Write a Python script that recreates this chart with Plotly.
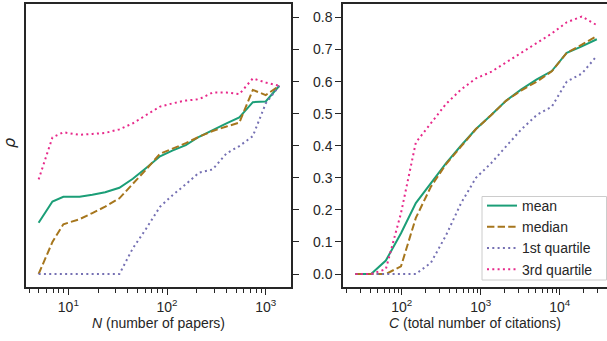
import plotly.graph_objects as go

# ---- data ----
N_vals = [5, 6.9, 8.9, 13, 17.5, 23.6, 32.9, 45, 61, 85, 113, 155, 211, 290, 400, 540, 740, 1000, 1374]
N_mean = [0.160, 0.226, 0.241, 0.241, 0.247, 0.255, 0.269, 0.297, 0.330, 0.367, 0.385, 0.402, 0.428, 0.450, 0.470, 0.488, 0.536, 0.538, 0.587]
N_median = [0.0, 0.100, 0.155, 0.171, 0.190, 0.210, 0.236, 0.280, 0.325, 0.375, 0.390, 0.408, 0.428, 0.446, 0.460, 0.472, 0.574, 0.558, 0.587]
N_q1 = [0.0, 0.0, 0.0, 0.0, 0.0, 0.0, 0.0, 0.080, 0.140, 0.210, 0.245, 0.280, 0.316, 0.326, 0.376, 0.399, 0.430, 0.532, 0.587]
N_q3 = [0.295, 0.426, 0.442, 0.434, 0.437, 0.440, 0.451, 0.470, 0.495, 0.522, 0.532, 0.541, 0.545, 0.566, 0.566, 0.561, 0.610, 0.597, 0.587]

C_vals = [26, 41, 63, 98, 151, 234, 363, 562, 871, 1349, 2089, 3236, 5129, 7943, 12303, 19055, 29512]
C_mean = [0.0, 0.0, 0.042, 0.127, 0.221, 0.283, 0.345, 0.400, 0.452, 0.495, 0.540, 0.575, 0.607, 0.633, 0.690, 0.710, 0.732]
C_median = [0.0, 0.0, 0.0, 0.024, 0.175, 0.272, 0.342, 0.397, 0.452, 0.495, 0.540, 0.572, 0.600, 0.632, 0.690, 0.715, 0.742]
C_q1 = [0.0, 0.0, 0.0, 0.0, 0.0, 0.035, 0.120, 0.220, 0.300, 0.345, 0.397, 0.450, 0.496, 0.522, 0.600, 0.625, 0.680]
C_q3 = [0.0, 0.0, 0.015, 0.190, 0.410, 0.470, 0.530, 0.575, 0.610, 0.630, 0.660, 0.690, 0.720, 0.750, 0.785, 0.803, 0.776]

series_names = ["mean", "median", "1st quartile", "3rd quartile"]
y_ticks = [0.0, 0.1, 0.2, 0.3, 0.4, 0.5, 0.6, 0.7, 0.8]
y_ticktext = ["0.0", "0.1", "0.2", "0.3", "0.4", "0.5", "0.6", "0.7", "0.8"]
N_major = [10, 100, 1000]
N_major_text = ["10<sup>1</sup>", "10<sup>2</sup>", "10<sup>3</sup>"]
N_minor = [4, 5, 6, 7, 8, 9, 20, 30, 40, 50, 60, 70, 80, 90, 200, 300, 400, 500, 600, 700, 800, 900]
C_major = [100, 1000, 10000]
C_major_text = ["10<sup>2</sup>", "10<sup>3</sup>", "10<sup>4</sup>"]
C_minor = [20, 30, 40, 50, 60, 70, 80, 90, 200, 300, 400, 500, 600, 700, 800, 900,
           2000, 3000, 4000, 5000, 6000, 7000, 8000, 9000, 20000, 30000]

# ---- styles ----
colors = ["#1b9e77", "#a6761d", "#7570b3", "#e7298a"]
dashes = ["solid", "7.4px,3.2px", "2px,3.3px", "2px,3.3px"]
FONT = "Liberation Sans, Arial, sans-serif"
AX = "#262626"

fig = go.Figure()
left = [N_mean, N_median, N_q1, N_q3]
right = [C_mean, C_median, C_q1, C_q3]
for i, name in enumerate(series_names):
    fig.add_trace(go.Scatter(x=N_vals, y=left[i], mode="lines", name=name,
                             line=dict(color=colors[i], width=2, dash=dashes[i]),
                             xaxis="x", yaxis="y", showlegend=False))
for i, name in enumerate(series_names):
    fig.add_trace(go.Scatter(x=C_vals, y=right[i], mode="lines", name=name,
                             line=dict(color=colors[i], width=2, dash=dashes[i]),
                             xaxis="x2", yaxis="y2", showlegend=True))

W, H = 607, 341
t, b = 4, 54
PH = H - t - b
yr = [-0.0405, 0.842]


def py(v):
    return (H - b - v) / PH


common_x = dict(type="log", showgrid=False, zeroline=False, showline=True, linecolor=AX, linewidth=1.5,
                ticks="outside", ticklen=6, tickwidth=1.2, tickcolor=AX,
                tickfont=dict(family=FONT, size=14, color=AX), mirror=True)

fig.update_layout(
    width=W, height=H,
    margin=dict(l=0, r=0, t=t, b=b, autoexpand=False),
    paper_bgcolor="white", plot_bgcolor="white",
    font=dict(family=FONT, size=14, color=AX),
    xaxis=dict(domain=[26 / W, 291 / W], range=[0.571, 3.256], anchor="y",
               tickmode="array", tickvals=N_major, ticktext=N_major_text,
               minor=dict(tickmode="array", tickvals=N_minor, ticks="outside", ticklen=4,
                          tickwidth=1, tickcolor=AX, showgrid=False),
               title=dict(text="<i>N</i> (number of papers)", font=dict(size=14, family=FONT, color=AX), standoff=2),
               **common_x),
    xaxis2=dict(domain=[343 / W, 1.0], range=[1.257, 4.599], anchor="y2",
                tickmode="array", tickvals=C_major, ticktext=C_major_text,
                minor=dict(tickmode="array", tickvals=C_minor, ticks="outside", ticklen=4,
                           tickwidth=1, tickcolor=AX, showgrid=False),
                title=dict(text="<i>C</i> (total number of citations)", font=dict(size=14, family=FONT, color=AX), standoff=2),
                **common_x),
    yaxis=dict(range=yr, anchor="x", side="right", showgrid=False, zeroline=False, showline=True,
               linecolor=AX, linewidth=1.5, mirror=True, ticks="outside", ticklen=6, tickwidth=1.2,
               tickcolor=AX, tickmode="array", tickvals=y_ticks, showticklabels=False),
    yaxis2=dict(range=yr, anchor="x2", side="left", showgrid=False, zeroline=False, showline=True,
                linecolor=AX, linewidth=1.5, mirror=False, ticks="outside", ticklen=6, tickwidth=1.2,
                tickcolor=AX, tickmode="array", tickvals=y_ticks, ticktext=y_ticktext,
                tickfont=dict(family=FONT, size=14, color=AX)),
    legend=dict(x=482 / W, xanchor="left", y=py(285), yanchor="bottom",
                bgcolor="rgba(0,0,0,0)", borderwidth=0,
                font=dict(family=FONT, size=14, color=AX), tracegroupgap=0),
    shapes=[dict(type="rect", xref="paper", yref="paper",
                 x0=482 / W, x1=606.5 / W, y0=py(280), y1=py(196.5),
                 line=dict(color="#cccccc", width=1), fillcolor="white", layer="above")],
    annotations=[dict(text="<i>ρ</i>", x=9 / W, y=py(143), xref="paper", yref="paper",
                      xanchor="center", yanchor="middle",
                      showarrow=False, textangle=-90,
                      font=dict(family="DejaVu Sans", size=16, color=AX))],
)

fig.write_html("out.html", config={"displayModeBar": False},
               post_script="document.body.style.margin='0';document.body.style.overflow='hidden';")
